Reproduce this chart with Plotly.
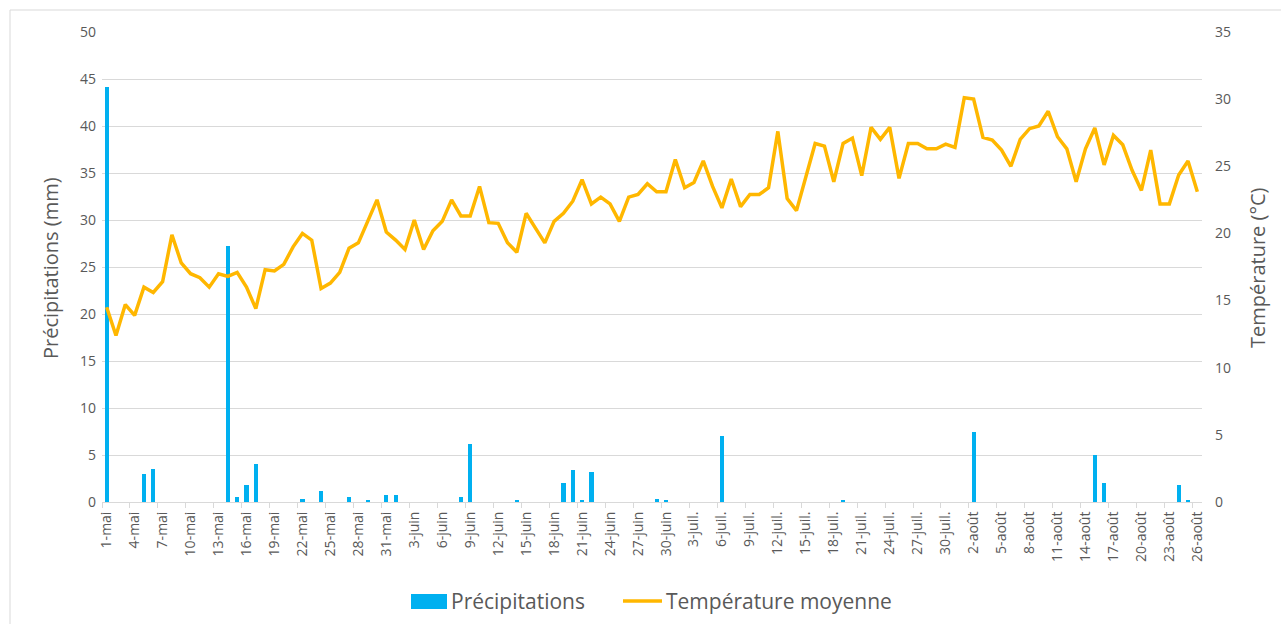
import plotly.graph_objects as go
import datetime as dt

# ---- data ----
start = dt.date(2000, 5, 1)
n_days = 118
month_names = {5: "mai", 6: "juin", 7: "juil.", 8: "août"}
day_labels = [f"{(start + dt.timedelta(days=i)).day}-{month_names[(start + dt.timedelta(days=i)).month]}" for i in range(n_days)]
day_index = list(range(n_days))

temperature = [
    14.5, 12.4, 14.7, 13.9, 16.0, 15.6, 16.4, 19.9, 17.8, 17.0,
    16.7, 16.0, 17.0, 16.8, 17.1, 16.0, 14.4, 17.3, 17.2, 17.7,
    19.0, 20.0, 19.5, 15.9, 16.3, 17.1, 18.9, 19.3, 20.9, 22.5,
    20.1, 19.5, 18.8, 21.0, 18.8, 20.2, 20.9, 22.5, 21.3, 21.3,
    23.5, 20.8, 20.75, 19.3, 18.6, 21.5, 20.4, 19.3, 20.9, 21.5,
    22.4, 24.0, 22.2, 22.7, 22.2, 20.9, 22.7, 22.9, 23.7, 23.1,
    23.1, 25.5, 23.4, 23.8, 25.4, 23.5, 21.9, 24.05, 22.0, 22.9,
    22.9, 23.4, 27.6, 22.6, 21.7, 24.2, 26.7, 26.5, 23.85, 26.7,
    27.1, 24.3, 27.9, 27.0, 27.9, 24.1, 26.7, 26.7, 26.3, 26.3,
    26.65, 26.4, 30.1, 30.0, 27.15, 26.95, 26.2, 25.0, 27.0, 27.8,
    28.0, 29.1, 27.2, 26.3, 23.85, 26.3, 27.85, 25.1, 27.3, 26.6,
    24.7, 23.2, 26.2, 22.2, 22.2, 24.35, 25.4, 23.1,
]

precip_values = {
    0: 44.2, 4: 3.0, 5: 3.55, 13: 27.2, 14: 0.5, 15: 1.8, 16: 4.0,
    21: 0.35, 23: 1.15, 26: 0.55, 28: 0.2, 30: 0.75, 31: 0.75,
    38: 0.55, 39: 6.2, 44: 0.2, 49: 2.0, 50: 3.4, 51: 0.15, 52: 3.2,
    59: 0.35, 60: 0.2, 66: 7.0, 79: 0.2, 93: 7.4, 106: 5.0, 107: 2.0,
    115: 1.8, 116: 0.2,
}
precipitation = [precip_values.get(i, 0.0) for i in range(n_days)]

tick_positions = list(range(0, n_days, 3))
tick_labels = [day_labels[i] for i in tick_positions]

series_names = ["Précipitations", "Température moyenne"]
series_colors = ["#00B0F0", "#FFB700"]

# ---- figure ----
FONT = "Open Sans"
GREY = "#595959"

fig = go.Figure()
fig.add_trace(go.Bar(
    x=day_index, y=precipitation, name=series_names[0],
    marker=dict(color=series_colors[0], line=dict(width=0)), width=0.45,
    yaxis="y", showlegend=False,
))
fig.add_trace(go.Scatter(
    x=day_index, y=temperature, name=series_names[1],
    mode="lines", line=dict(color=series_colors[1], width=3.5),
    yaxis="y2", showlegend=False,
))

W, H = 1281, 624
L, R, T, B = 102, 79, 32, 122
pw, ph = W - L - R, H - T - B

def px_x(x):
    return (x - L) / pw

def px_y(y):
    return (H - B - y) / ph

annotations = [
    dict(text="Précipitations (mm)", xref="paper", yref="paper", x=px_x(50), y=px_y(268),
         textangle=-90, showarrow=False, font=dict(size=20, color=GREY),
         xanchor="center", yanchor="middle"),
    dict(text="Température (°C)", xref="paper", yref="paper", x=px_x(1257), y=px_y(268),
         textangle=-90, showarrow=False, font=dict(size=20, color=GREY),
         xanchor="center", yanchor="middle"),
    dict(text=series_names[0], xref="paper", yref="paper", x=px_x(449), y=px_y(601),
         showarrow=False, font=dict(size=21, color=GREY), xanchor="left", yanchor="middle"),
    dict(text=series_names[1], xref="paper", yref="paper", x=px_x(664), y=px_y(601),
         showarrow=False, font=dict(size=21, color=GREY), xanchor="left", yanchor="middle"),
]

shapes = [
    dict(type="rect", xref="paper", yref="paper",
         x0=px_x(10), x1=px_x(1295), y0=px_y(640), y1=px_y(10),
         line=dict(color="#d9d9d9", width=1), fillcolor="rgba(0,0,0,0)", layer="below"),
    dict(type="rect", xref="paper", yref="paper",
         x0=px_x(411), x1=px_x(447), y0=px_y(609), y1=px_y(594),
         line=dict(width=0), fillcolor=series_colors[0]),
    dict(type="line", xref="paper", yref="paper",
         x0=px_x(623), x1=px_x(662), y0=px_y(601), y1=px_y(601),
         line=dict(color=series_colors[1], width=3.5)),
]

fig.update_layout(
    width=W, height=H,
    margin=dict(l=L, r=R, t=T, b=B),
    paper_bgcolor="white", plot_bgcolor="white",
    font=dict(family=FONT, color=GREY),
    bargap=0,
    showlegend=False,
    xaxis=dict(
        range=[-0.5, n_days - 0.5], automargin=False,
        tickmode="array", tickvals=tick_positions, ticktext=tick_labels,
        tickangle=-90, tickfont=dict(size=14, color=GREY), ticklabelstandoff=3,
        ticks="", showgrid=False, zeroline=False,
        showline=True, linecolor="#d9d9d9", linewidth=1,
        minor=dict(tickmode="linear", tick0=-0.5, dtick=3, ticks="outside",
                   ticklen=5, tickcolor="#d9d9d9", showgrid=False),
    ),
    yaxis=dict(
        range=[0, 50], dtick=5, showgrid=True, gridcolor="#d9d9d9", gridwidth=1,
        zeroline=False, showline=False, ticks="", automargin=False,
        tickfont=dict(size=14, color=GREY), ticklabelstandoff=5,
    ),
    yaxis2=dict(
        range=[0, 35], dtick=5, overlaying="y", side="right", showgrid=False,
        zeroline=False, showline=False, ticks="", automargin=False,
        tickfont=dict(size=14, color=GREY), ticklabelstandoff=12,
    ),
    annotations=annotations,
    shapes=shapes,
)

fig.write_html("out.html", config={"displayModeBar": False},
               post_script="document.body.style.margin='0px';")
